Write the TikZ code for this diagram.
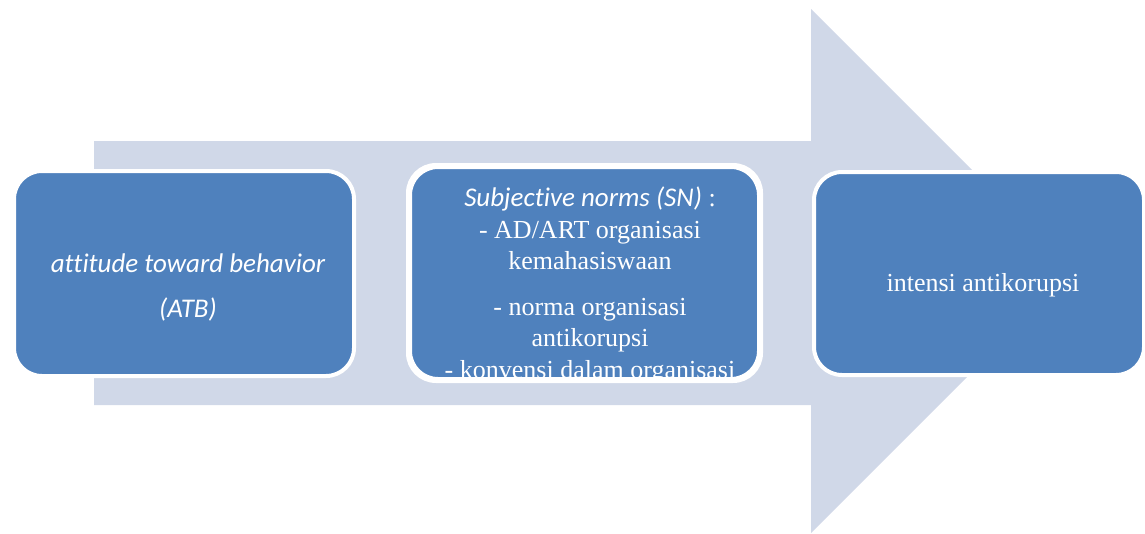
\documentclass[tikz,border=0pt]{standalone}
\usepackage{fontspec}
\setmainfont{Liberation Serif}
\newfontfamily\calibri[Ligatures=NoCommon]{Carlito}
\definecolor{arrowfill}{HTML}{D0D8E8}
\definecolor{boxfill}{HTML}{4F81BD}

\begin{document}
\begin{tikzpicture}[x=1pt, y=-1pt,
    stagebox/.style={rectangle, rounded corners=28pt, fill=boxfill,
      draw=white, line width=4pt, inner sep=0pt},
    boxtext/.style={text=white, align=center, inner sep=0pt,
      font=\fontsize{26}{31.5}\selectfont},
    atbtext/.style={boxtext, font=\calibri\itshape\fontsize{27}{45}\selectfont}]
  \useasboundingbox (0,0) rectangle (1145,533);
  \clip (0,0) rectangle (1145,533);
  % big background arrow
  \fill[arrowfill] (94,141) -- (811,141) -- (811,9) -- (1073,271)
    -- (811,533) -- (811,405) -- (94,405) -- cycle;
  % stages
  \node[stagebox, minimum width=340pt, minimum height=205pt] (atb) at (184,273.5) {};
  \node[stagebox, minimum width=349pt, minimum height=212pt] (sn) at (584.5,273) {};
  \node[stagebox, minimum width=330pt, minimum height=203pt] (intensi) at (979,273.5) {};
  \node[atbtext, anchor=base] (atblabel) at (188,317)
    {attitude toward behavior\\ (ATB)};
  \begin{scope}
    \clip[rounded corners=28pt] (sn.south west) rectangle (sn.north east);
    \node[boxtext, anchor=base] (snlabel) at (590,378)
      {{\calibri\itshape\fontsize{27}{31.5}\selectfont Subjective norms (SN)} :\\
       - AD/ART organisasi\\ kemahasiswaan\\[14pt]
       - norma organisasi\\ antikorupsi\\
       - konvensi dalam organisasi};
  \end{scope}
  \draw[white, line width=4pt, rounded corners=28pt] (sn.south west) rectangle (sn.north east);
  \node[boxtext, anchor=base] (intensilabel) at (983,291) {intensi antikorupsi};
\end{tikzpicture}
\end{document}
